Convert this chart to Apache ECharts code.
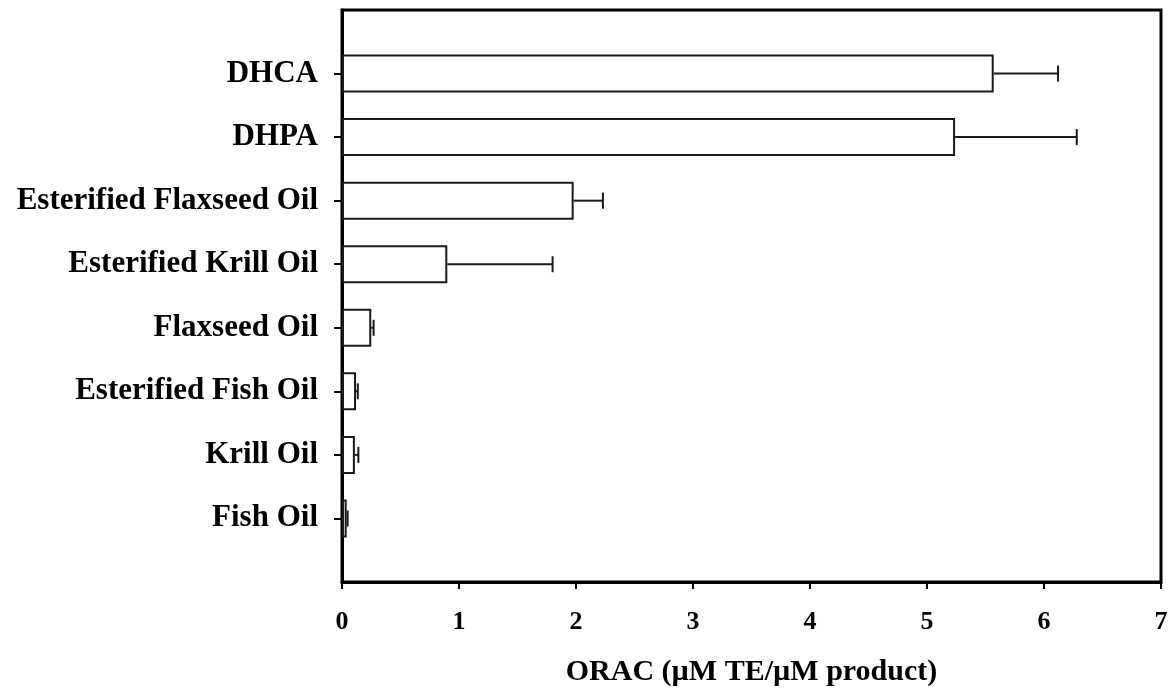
<!DOCTYPE html>
<html>
<head>
<meta charset="utf-8">
<script src="https://cdn.jsdelivr.net/npm/echarts@6/dist/echarts.min.js"></script>
<style>
  html, body { margin: 0; padding: 0; background: #fff; }
  #chart { width: 1171px; height: 692px; }
</style>
</head>
<body>
<div id="chart"></div>
<script>
// Products, top to bottom
const products = [
  'DHCA',
  'DHPA',
  'Esterified Flaxseed Oil',
  'Esterified Krill Oil',
  'Flaxseed Oil',
  'Esterified Fish Oil',
  'Krill Oil',
  'Fish Oil'
];
// ORAC means (µM TE/µM product)
const oracMean = [5.57, 5.24, 1.98, 0.90, 0.25, 0.12, 0.11, 0.04];
// Standard deviations (drawn on the right side only)
const oracSD = [0.55, 1.04, 0.25, 0.90, 0.02, 0.015, 0.03, 0.008];
// X axis ticks
const xTicks = [0, 1, 2, 3, 4, 5, 6, 7];

// Blank slots at both ends leave one step of space above and below the bars
const yCats = [''].concat(products, ['']);
const barData = [null].concat(oracMean, [null]);
const errData = products.map((p, i) => [i + 1, oracMean[i], oracMean[i] + oracSD[i]]);

const serif = 'Liberation Serif';
const chart = echarts.init(document.getElementById('chart'));

chart.setOption({
  backgroundColor: '#ffffff',
  animation: false,
  grid: {
    left: 342, right: 10, top: 10, height: 573,
    show: true, borderColor: '#000', borderWidth: 3, backgroundColor: 'transparent'
  },
  xAxis: {
    type: 'value',
    min: xTicks[0],
    max: xTicks[xTicks.length - 1],
    interval: 1,
    splitLine: { show: false },
    axisLine: { show: true, lineStyle: { color: '#000', width: 3 } },
    axisTick: { show: true, inside: false, length: 7, lineStyle: { color: '#000', width: 2 } },
    axisLabel: {
      margin: 27, color: '#000', fontFamily: serif, fontWeight: 'bold', fontSize: 26
    },
    name: 'ORAC (\u00b5M TE/\u00b5M product)',
    nameLocation: 'middle',
    nameGap: 75,
    nameTextStyle: { color: '#000', fontFamily: serif, fontWeight: 'bold', fontSize: 30 }
  },
  yAxis: {
    type: 'category',
    data: yCats,
    inverse: true,
    boundaryGap: false,
    axisLine: { show: true, lineStyle: { color: '#000', width: 3 } },
    axisTick: {
      show: true, inside: false, length: 8,
      interval: (idx, val) => val !== '',
      lineStyle: { color: '#000', width: 2 }
    },
    axisLabel: {
      margin: 24, color: '#000', fontFamily: serif, fontWeight: 'bold', fontSize: 31,
      interval: 0
    },
    splitLine: { show: false }
  },
  series: [
    {
      type: 'bar',
      data: barData,
      barWidth: 38,
      itemStyle: { color: '#ffffff', borderColor: '#1a1a1a', borderWidth: 2 },
      z: 2
    },
    {
      type: 'custom',
      data: errData,
      encode: { x: [1, 2], y: 0 },
      z: 3,
      renderItem: function (params, api) {
        const cat = api.value(0);
        const start = api.coord([api.value(1), cat]);
        const end = api.coord([api.value(2), cat]);
        const stroke = { stroke: '#1a1a1a', lineWidth: 2 };
        return {
          type: 'group',
          children: [
            { type: 'line', shape: { x1: start[0], y1: start[1], x2: end[0], y2: end[1] }, style: stroke },
            { type: 'line', shape: { x1: end[0], y1: end[1] - 8, x2: end[0], y2: end[1] + 8 }, style: stroke }
          ]
        };
      }
    }
  ]
});
</script>
</body>
</html>
